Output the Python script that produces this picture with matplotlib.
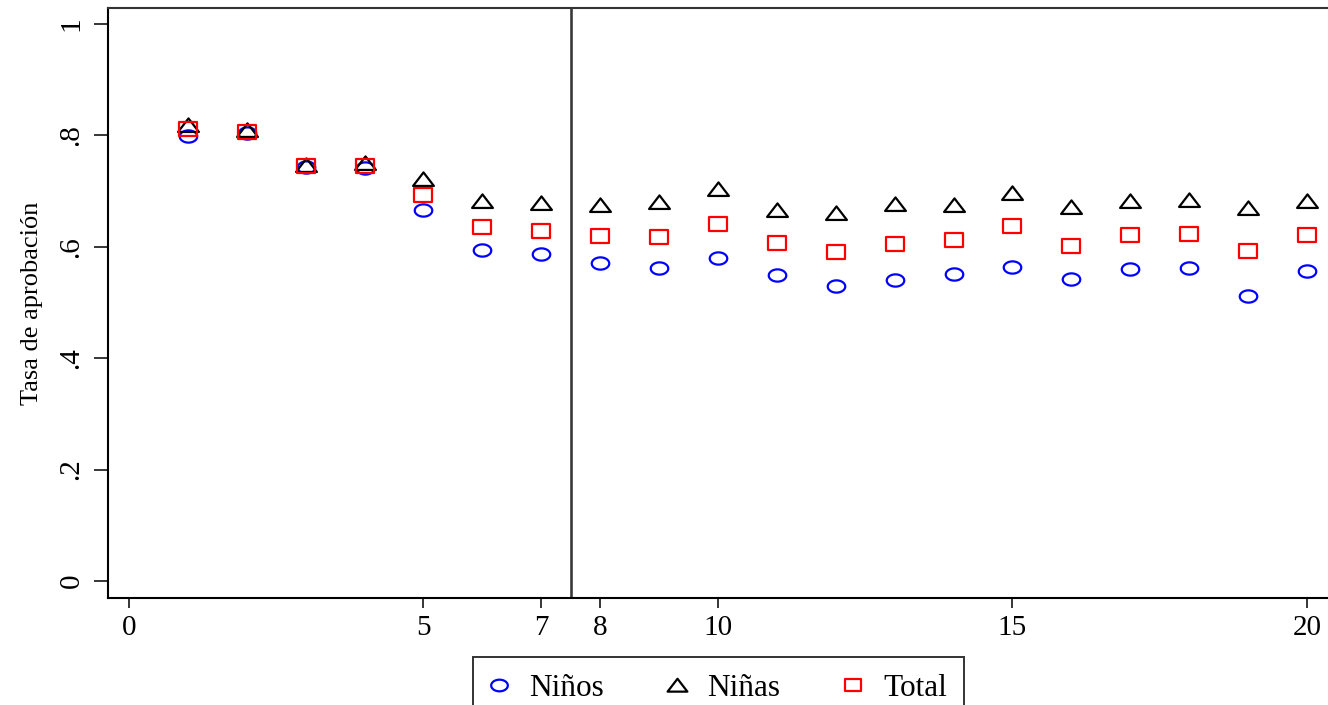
import matplotlib
matplotlib.use("Agg")
import matplotlib.pyplot as plt
from matplotlib.path import Path
import numpy as np

# Grade-by-grade approval rates
grades = list(range(1, 21))
ninos = [0.799, 0.804, 0.743, 0.741, 0.666, 0.594, 0.587, 0.571, 0.562, 0.580,
         0.549, 0.530, 0.540, 0.551, 0.564, 0.542, 0.560, 0.562, 0.512, 0.557]
ninas = [0.819, 0.810, 0.747, 0.750, 0.722, 0.682, 0.679, 0.675, 0.680, 0.704,
         0.666, 0.661, 0.677, 0.675, 0.697, 0.671, 0.682, 0.684, 0.670, 0.682]
total = [0.811, 0.806, 0.745, 0.745, 0.693, 0.636, 0.628, 0.619, 0.618, 0.641,
         0.607, 0.591, 0.605, 0.612, 0.637, 0.601, 0.621, 0.623, 0.592, 0.621]

series_labels = ["Niños", "Niñas", "Total"]
xticks = [0, 5, 7, 8, 10, 15, 20]
yticks = [0, 0.2, 0.4, 0.6, 0.8, 1.0]
ytick_labels = ["0", ".2", ".4", ".6", ".8", "1"]
cutoff = 7.5

plt.rcParams["font.family"] = ["Liberation Serif", "DejaVu Serif"]

# Slightly flattened marker shapes
t = np.linspace(0, 2 * np.pi, 60)
ellipse = Path(np.column_stack([np.cos(t), 0.70 * np.sin(t)]), closed=True)
triangle = Path([(-1, -0.62), (1, -0.62), (0, 0.68), (-1, -0.62)], closed=True)
square = Path([(-1, -0.76), (1, -0.76), (1, 0.76), (-1, 0.76), (-1, -0.76)], closed=True)

fig = plt.figure(figsize=(13.28, 7.05), dpi=100)
ax = fig.add_axes([108 / 1328, 107 / 705, 1223 / 1328, 590 / 705])

mew = 1.6
ax.plot(grades, ninos, linestyle="none", marker=ellipse, markersize=12.6,
        markerfacecolor="none", markeredgecolor="#0000ff", markeredgewidth=mew,
        label=series_labels[0])
ax.plot(grades, ninas, linestyle="none", marker=triangle, markersize=15.0,
        markerfacecolor="none", markeredgecolor="black", markeredgewidth=mew,
        label=series_labels[1])
ax.plot(grades, total, linestyle="none", marker=square, markersize=12.6,
        markerfacecolor="none", markeredgecolor="#ff0000", markeredgewidth=mew,
        label=series_labels[2])

ax.axvline(cutoff, color="#3a3a3a", linewidth=1.9, zorder=1)

ax.set_xlim(-0.357, 20.41)
ax.set_ylim(-0.0305, 1.0287)

ax.set_xticks(xticks)
ax.set_xticklabels([str(v) for v in xticks])
ax.set_yticks(yticks)
ax.set_yticklabels(ytick_labels, rotation=90, va="center")

ax.tick_params(axis="x", direction="out", length=7.2, width=1.1, pad=5,
               labelsize=21, colors="black")
ax.tick_params(axis="y", direction="out", length=10, width=1.1, pad=7,
               labelsize=21, colors="black")

for side in ["left", "bottom", "top", "right"]:
    ax.spines[side].set_linewidth(1.5)
    ax.spines[side].set_color("black")
ax.spines["top"].set_color("#333333")

ax.set_ylabel("Tasa de aprobación", fontsize=19)
ax.yaxis.set_label_coords(-0.053, 0.5)

leg = fig.legend(loc="upper center", bbox_to_anchor=(718.5 / 1328, 1 - 657 / 705),
                 ncol=3, frameon=True, fancybox=False, fontsize=22.5,
                 handlelength=0.6, handletextpad=0.65, columnspacing=2.05,
                 borderpad=0.55, borderaxespad=0.0, markerscale=0.95)
leg.get_frame().set_edgecolor("black")
leg.get_frame().set_linewidth(1.4)

fig.savefig("out.png", dpi=100)
